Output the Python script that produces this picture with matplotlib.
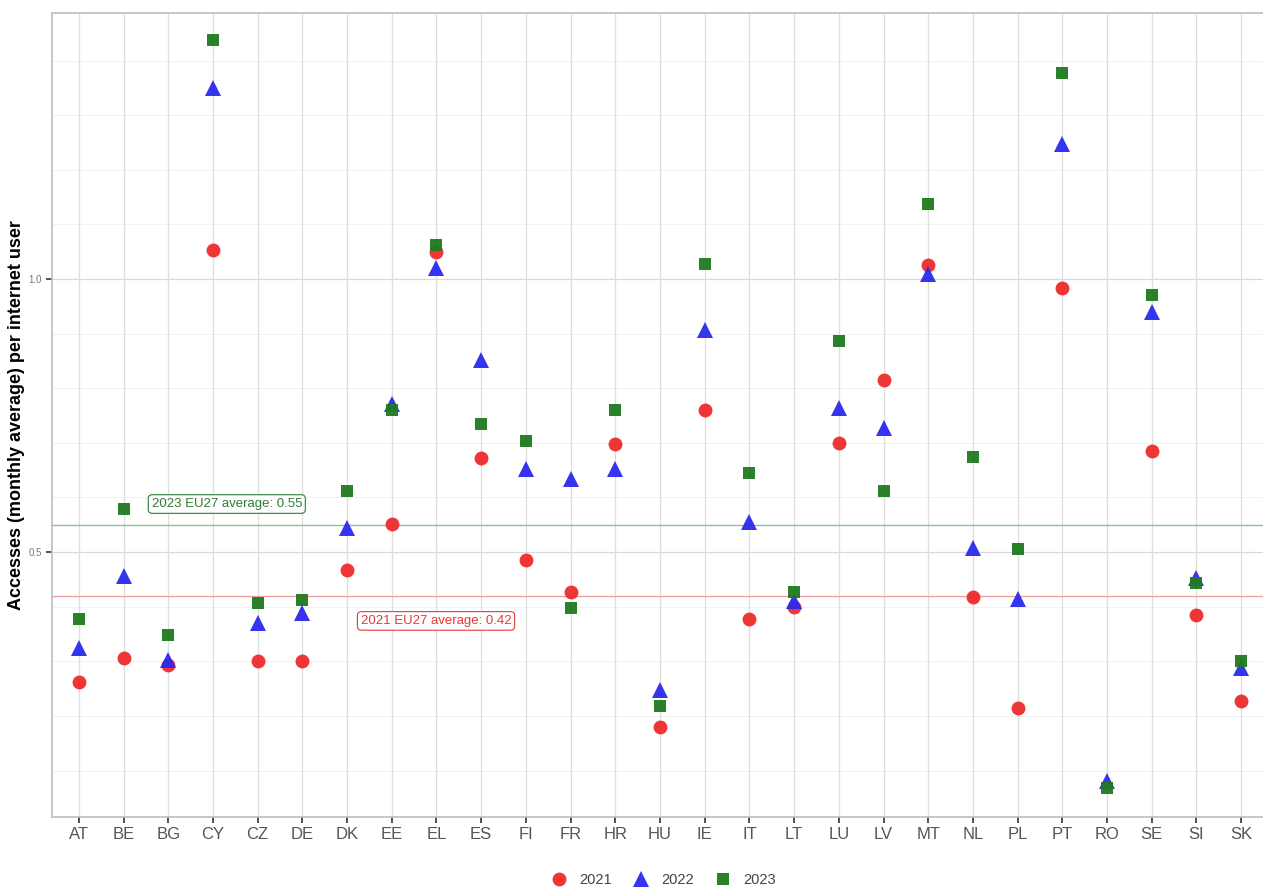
import matplotlib
matplotlib.use("Agg")
import matplotlib.pyplot as plt
import numpy as np

plt.rcParams['font.family'] = ['Liberation Sans', 'DejaVu Sans']

countries = ['AT', 'BE', 'BG', 'CY', 'CZ', 'DE', 'DK', 'EE', 'EL', 'ES', 'FI', 'FR', 'HR', 'HU',
             'IE', 'IT', 'LT', 'LU', 'LV', 'MT', 'NL', 'PL', 'PT', 'RO', 'SE', 'SI', 'SK']

# accesses per internet user, monthly average
y2021 = [0.262, 0.307, 0.294, 1.054, 0.300, 0.300, 0.468, 0.552, 1.049, 0.673, 0.485, 0.427, 0.698, 0.180,
         0.761, 0.378, 0.400, 0.700, 0.815, 1.026, 0.418, 0.215, 0.983, np.nan, 0.686, 0.385, 0.227]
y2022 = [0.325, 0.456, 0.303, 1.349, 0.370, 0.389, 0.545, 0.771, 1.020, 0.851, 0.653, 0.634, 0.652, 0.247,
         0.907, 0.555, 0.411, 0.763, 0.728, 1.010, 0.507, 0.415, 1.248, 0.081, 0.940, 0.453, 0.287]
y2023 = [0.377, 0.578, 0.349, 1.437, 0.407, 0.413, 0.611, 0.760, 1.062, 0.734, 0.703, 0.398, 0.761, 0.219,
         1.028, 0.644, 0.427, 0.886, 0.612, 1.137, 0.674, 0.506, 1.378, 0.068, 0.971, 0.443, 0.301]

avg2021 = 0.42
avg2023 = 0.55

x = np.arange(len(countries))

fig = plt.figure(figsize=(12.63, 8.92), dpi=100)
ax = fig.add_axes([52 / 1263, 75 / 892, 1216 / 1263, 804 / 892])

# grid: faint lines every 0.1, slightly stronger at labelled breaks
for v in np.arange(0.1, 1.45, 0.1):
    ax.axhline(v, color='#efefef', lw=0.6, zorder=0)
for v in [0.5, 1.0]:
    ax.axhline(v, color='#d9d9d9', lw=0.9, zorder=0)
for xi in x:
    ax.axvline(xi, color='#dedede', lw=0.9, zorder=0)

ax.axhline(avg2023, color='#8fbf8f', lw=1.0, zorder=1)
ax.axhline(avg2021, color='#f0a0a0', lw=1.0, zorder=1)

ax.plot(x, y2021, 'o', color='#ee2b2b', ms=10, mew=0, alpha=0.95, label='2021', zorder=3)
ax.plot(x, y2022, '^', color='#2a2af0', ms=11, mew=0, alpha=0.95, label='2022', zorder=4)
ax.plot(x, y2023, 's', color='#1f7a1f', ms=9, mew=0, alpha=0.95, label='2023', zorder=5)

ax.text(3.31, 0.588, '2023 EU27 average: 0.55', color='#2e7d32', fontsize=9.5,
        ha='center', va='center', zorder=6,
        bbox=dict(boxstyle='round,pad=0.25,rounding_size=0.3', fc='white', ec='#2e7d32', lw=0.8))
ax.text(7.99, 0.374, '2021 EU27 average: 0.42', color='#e53935', fontsize=9.5,
        ha='center', va='center', zorder=6,
        bbox=dict(boxstyle='round,pad=0.25,rounding_size=0.3', fc='white', ec='#e53935', lw=0.8))

ax.set_xlim(-0.6, 26.6)
ax.set_ylim(0.015, 1.487)
ax.set_xticks(x)
ax.set_xticklabels(countries, fontsize=12, color='#555555')
ax.set_yticks([0.5, 1.0])
ax.set_yticklabels(['0.5', '1.0'], fontsize=7, color='#777777')
ax.tick_params(axis='both', length=4, width=1.2, color='#333333')
ax.tick_params(axis='x', pad=3)

for side in ['left', 'bottom', 'top', 'right']:
    ax.spines[side].set_color('#bdbdbd')
    ax.spines[side].set_linewidth(1.2)

ax.set_ylabel('Accesses (monthly average) per internet user', fontsize=13,
              fontweight='bold')
ax.yaxis.set_label_coords(-27 / 1216, 0.5)

fig.legend(loc='center', bbox_to_anchor=(660 / 1263, 12 / 892), ncol=3, frameon=False,
           fontsize=10.5, handletextpad=0.4, columnspacing=1.0, labelcolor='#444444')

fig.savefig('out.png', dpi=100)
